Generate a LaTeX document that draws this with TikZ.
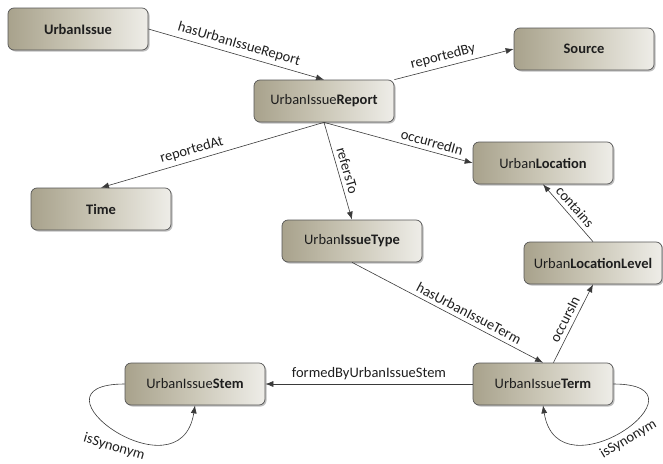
\documentclass[tikz,border=0pt]{standalone}
\usepackage{fontspec}
\setmainfont{Carlito}
\usetikzlibrary{arrows.meta,shadows}
\definecolor{boxL}{HTML}{A8A28C}
\definecolor{boxM}{HTML}{CCC8B8}
\definecolor{boxR}{HTML}{EEEDE8}
\definecolor{edgecol}{HTML}{3A3A3A}
\definecolor{bordercol}{HTML}{555555}
\definecolor{txt}{HTML}{1E1E1E}
\begin{document}
\begin{tikzpicture}[x=1pt,y=-1pt,
  cls/.style={rectangle, rounded corners=6pt, draw=bordercol, line width=0.7pt,
    left color=boxL, right color=boxR, middle color=boxM,
    minimum width=140pt, minimum height=42pt,
    font=\fontsize{14.5}{17}\selectfont, text=txt,
    drop shadow={shadow xshift=1.5pt, shadow yshift=-1.5pt, fill=black, opacity=0.25}},
  rel/.style={draw=edgecol, line width=0.6pt, -{Latex[length=8pt,width=6pt]}},
  lbl/.style={font=\fontsize{14.5}{16}\selectfont, text=txt, sloped, above, inner sep=4pt}]
\useasboundingbox (0,0) rectangle (663,463);

\node[cls] (ui) at (78,29) {\textbf{UrbanIssue}};
\node[cls] (source) at (584,49) {\textbf{Source}};
\node[cls] (report) at (324,101) {UrbanIssue\textbf{Report}};
\node[cls] (uloc) at (543,163) {Urban\textbf{Location}};
\node[cls] (time) at (101,209) {\textbf{Time}};
\node[cls] (uit) at (352,241) {Urban\textbf{IssueType}};
\node[cls, minimum width=138pt] (level) at (593,263) {Urban\textbf{LocationLevel}};
\node[cls] (stem) at (195,384) {UrbanIssue\textbf{Stem}};
\node[cls] (term) at (543,384) {UrbanIssue\textbf{Term}};

\draw[rel] (ui.east) -- node[lbl,pos=0.5]{hasUrbanIssueReport} (report.north);
\draw[rel] (report.north east) -- node[lbl,pos=0.43]{reportedBy} (source.west);
\draw[rel] (report.south) -- node[lbl,pos=0.58]{reportedAt} (time.north);
\draw[rel] (report.south) -- node[lbl,pos=0.71]{occurredIn} (uloc.west);
\draw[rel] (report.south) -- node[lbl,pos=0.52]{refersTo} (uit.north);
\draw[rel] (uit.south) -- node[lbl,pos=0.59]{hasUrbanIssueTerm} (term.north);
\draw[rel] (term.64) -- node[lbl,pos=0.5]{occursIn} (level.south);
\draw[rel] (level.north) -- node[lbl,pos=0.5]{contains} (uloc.south);
\draw[rel] (term.west) -- node[lbl,pos=0.5]{formedByUrbanIssueStem} (stem.east);

\draw[rel] (stem.west) .. controls (20,384) and (180,500) .. node[lbl,pos=0.52,below,inner sep=9pt,rotate=12]{isSynonym} (stem.south);
\draw[rel] (term.east) .. controls (718,384) and (558,500) .. node[lbl,pos=0.5,below]{isSynonym} (term.south);
\end{tikzpicture}
\end{document}
